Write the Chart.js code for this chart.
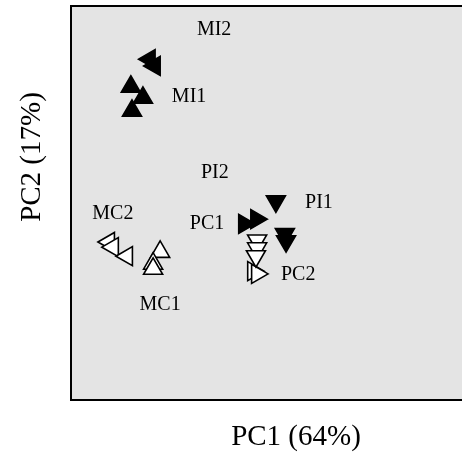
<!DOCTYPE html>
<html>
<head>
<meta charset="utf-8">
<script src="https://cdn.jsdelivr.net/npm/chart.js@4"></script>
<style>
  html, body { margin: 0; padding: 0; background: #fff; }
  #wrap { width: 462px; height: 456px; }
</style>
</head>
<body>
<div id="wrap"><canvas id="pca" width="462" height="456"></canvas></div>
<script>
// scores (arbitrary units, 0-100 on both axes)
const miTwoX = [20.1, 21.4];
const miTwoY = [86.5, 84.8];
const miOneX = [15.3, 18.4, 15.6];
const miOneY = [79.5, 76.7, 73.4];
const piTwoX = [44.3, 47.4];
const piTwoY = [44.7, 45.9];
const piOneX = [52.4, 54.7, 55.0];
const piOneY = [50.4, 42.1, 40.3];
const pcOneX = [47.6, 47.6, 47.3];
const pcOneY = [40.5, 38.5, 36.5];
const pcTwoX = [46.6, 47.6];
const pcTwoY = [32.7, 32.0];
const mcTwoX = [9.7, 10.7, 14.3];
const mcTwoY = [40.1, 38.8, 36.5];
const mcOneX = [22.8, 21.0, 21.0];
const mcOneY = [37.6, 34.6, 33.3];

// group labels and where they sit
const groupNames = ["MI2", "MI1", "PI2", "PI1", "PC1", "MC2", "PC2", "MC1"];
const groupLabelX = [36.6, 30.2, 36.8, 63.4, 34.8, 10.7, 58.1, 22.8];
const groupLabelY = [94.4, 77.4, 57.9, 50.5, 45.2, 47.5, 32.2, 24.6];

const xTitle = "PC1 (64%)";
const yTitle = "PC2 (17%)";

function pts(xs, ys) {
  return xs.map((x, i) => ({ x: x, y: ys[i] }));
}

// rotation: 0 = up, 90 = right, 180 = down, 270 = left
function serie(label, xs, ys, rot, filled) {
  return {
    label: label,
    data: pts(xs, ys),
    pointStyle: "triangle",
    rotation: rot,
    pointRadius: 11,
    pointHoverRadius: 11,
    backgroundColor: filled ? "#000" : "#fff",
    borderColor: "#000",
    borderWidth: 1.6,
  };
}

const fondo = {
  id: "fondo",
  beforeDraw(chart) {
    const { ctx, chartArea: a } = chart;
    ctx.save();
    ctx.fillStyle = "#e4e4e4";
    ctx.fillRect(a.left, a.top, a.right - a.left + 100, a.bottom - a.top);
    ctx.restore();
  },
  afterDatasetsDraw(chart) {
    const { ctx, chartArea: a } = chart;
    const sx = chart.scales.x;
    const sy = chart.scales.y;
    ctx.save();
    // marco (the right side is off the picture)
    ctx.strokeStyle = "#000";
    ctx.lineWidth = 2;
    ctx.strokeRect(a.left, a.top, a.right - a.left + 100, a.bottom - a.top);

    // etiquetas de los grupos
    ctx.fillStyle = "#000";
    ctx.font = "20px 'Liberation Serif', 'DejaVu Serif', serif";
    ctx.textAlign = "center";
    ctx.textBaseline = "alphabetic";
    groupNames.forEach((n, i) => {
      ctx.fillText(n, sx.getPixelForValue(groupLabelX[i]), sy.getPixelForValue(groupLabelY[i]) + 6.6);
    });

    // titulos de ejes
    ctx.font = "29px 'Liberation Serif', 'DejaVu Serif', serif";
    ctx.fillText(xTitle, 296, 445);
    ctx.translate(40, 157);
    ctx.rotate(-Math.PI / 2);
    ctx.fillText(yTitle, 0, 0);
    ctx.restore();
  },
};

new Chart(document.getElementById("pca"), {
  type: "scatter",
  data: {
    datasets: [
      serie("MI2", miTwoX, miTwoY, 270, true),
      serie("MI1", miOneX, miOneY, 0, true),
      serie("PI2", piTwoX, piTwoY, 90, true),
      serie("PI1", piOneX, piOneY, 180, true),
      serie("PC1", pcOneX, pcOneY, 180, false),
      serie("PC2", pcTwoX, pcTwoY, 90, false),
      serie("MC2", mcTwoX, mcTwoY, 270, false),
      serie("MC1", mcOneX, mcOneY, 0, false),
    ],
  },
  options: {
    responsive: false,
    animation: false,
    layout: { autoPadding: false, padding: { left: 71, top: 6, right: 0, bottom: 56 } },
    plugins: {
      legend: { display: false },
      tooltip: { enabled: false },
    },
    scales: {
      x: { type: "linear", min: 0, max: 100, display: false },
      y: { type: "linear", min: 0, max: 100, display: false },
    },
  },
  plugins: [fondo],
});
</script>
</body>
</html>
